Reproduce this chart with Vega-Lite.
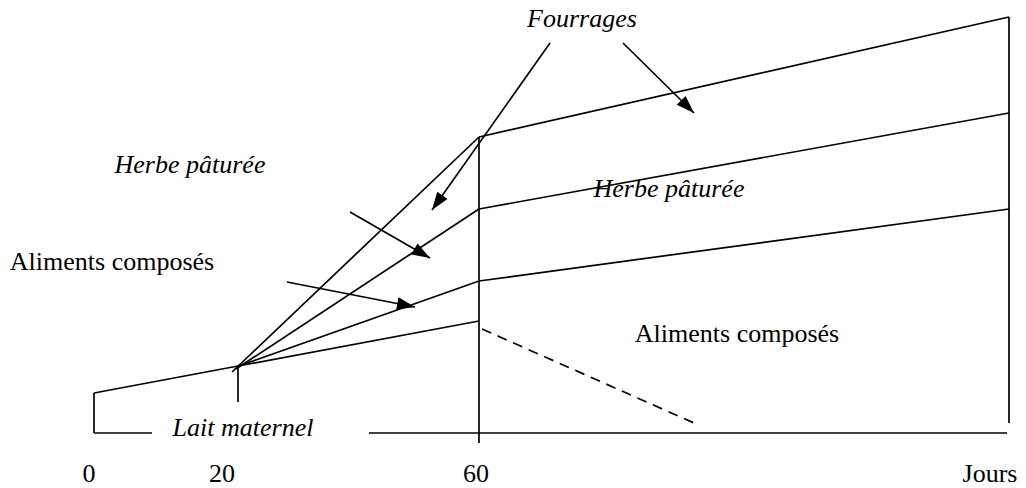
{
  "$schema": "https://vega.github.io/schema/vega-lite/v6.json",
  "width": 1026,
  "height": 488,
  "padding": 0,
  "autosize": {"type": "fit", "contains": "padding"},
  "config": {"view": {"stroke": null}},
  "datasets": {
    "segments": [
      {"x": 94, "y": 55, "x2": 152, "y2": 55},
      {"x": 369, "y": 55, "x2": 1007, "y2": 55},
      {"x": 94, "y": 55, "x2": 94, "y2": 95},
      {"x": 94, "y": 95, "x2": 238, "y2": 122},
      {"x": 238, "y": 122, "x2": 238, "y2": 86},
      {"x": 238, "y": 122, "x2": 479, "y2": 167},
      {"x": 236, "y": 121, "x2": 479, "y2": 207},
      {"x": 236, "y": 119, "x2": 479, "y2": 279},
      {"x": 232, "y": 116, "x2": 479, "y2": 351},
      {"x": 479, "y": 45, "x2": 479, "y2": 351},
      {"x": 479, "y": 351, "x2": 1009, "y2": 471},
      {"x": 479, "y": 279, "x2": 1009, "y2": 375},
      {"x": 479, "y": 207, "x2": 1009, "y2": 279},
      {"x": 1009, "y": 471, "x2": 1009, "y2": 65}
    ],
    "dashed": [
      {"x": 482, "y": 159, "x2": 694, "y2": 65}
    ],
    "arrows": [
      {"x": 550, "y": 445, "x2": 432, "y2": 278},
      {"x": 623, "y": 445, "x2": 694, "y2": 375},
      {"x": 350, "y": 276, "x2": 430, "y2": 230},
      {"x": 287, "y": 206, "x2": 415, "y2": 181}
    ],
    "italicLabels": [
      {"label": "Fourrages", "x": 582, "y": 461},
      {"label": "Herbe pâturée", "x": 190, "y": 315},
      {"label": "Herbe pâturée", "x": 669, "y": 291},
      {"label": "Lait maternel", "x": 243, "y": 52}
    ],
    "labels": [
      {"label": "Aliments composés", "x": 112, "y": 218},
      {"label": "Aliments composés", "x": 737, "y": 146},
      {"label": "0", "x": 89, "y": 6},
      {"label": "20", "x": 222, "y": 6},
      {"label": "60", "x": 476, "y": 6},
      {"label": "Jours", "x": 990, "y": 6}
    ]
  },
  "layer": [
    {
      "data": {"name": "segments"},
      "mark": {"type": "rule", "color": "black", "strokeWidth": 1.7},
      "encoding": {
        "x": {"field": "x", "type": "quantitative", "scale": {"domain": [0, 1026], "nice": false, "zero": false}, "axis": null},
        "y": {"field": "y", "type": "quantitative", "scale": {"domain": [0, 488], "nice": false, "zero": false}, "axis": null},
        "x2": {"field": "x2"},
        "y2": {"field": "y2"}
      }
    },
    {
      "data": {"name": "dashed"},
      "mark": {"type": "rule", "color": "black", "strokeWidth": 1.7, "strokeDash": [10, 7]},
      "encoding": {
        "x": {"field": "x", "type": "quantitative"},
        "y": {"field": "y", "type": "quantitative"},
        "x2": {"field": "x2"},
        "y2": {"field": "y2"}
      }
    },
    {
      "data": {"name": "arrows"},
      "mark": {"type": "rule", "color": "black", "strokeWidth": 1.7},
      "encoding": {
        "x": {"field": "x", "type": "quantitative"},
        "y": {"field": "y", "type": "quantitative"},
        "x2": {"field": "x2"},
        "y2": {"field": "y2"}
      }
    },
    {
      "data": {"name": "arrows"},
      "transform": [
        {"calculate": "atan2(datum.x2 - datum.x, datum.y2 - datum.y) * 180 / PI", "as": "angle"}
      ],
      "mark": {"type": "point", "filled": true, "color": "black", "opacity": 1, "shape": "M0,0L-0.7,2L0.7,2Z", "size": 324},
      "encoding": {
        "x": {"field": "x2", "type": "quantitative"},
        "y": {"field": "y2", "type": "quantitative"},
        "angle": {"field": "angle", "type": "quantitative", "scale": null}
      }
    },
    {
      "data": {"name": "italicLabels"},
      "mark": {"type": "text", "font": "Liberation Serif", "fontSize": 26, "fontStyle": "italic", "align": "center", "baseline": "alphabetic", "color": "black"},
      "encoding": {
        "x": {"field": "x", "type": "quantitative"},
        "y": {"field": "y", "type": "quantitative"},
        "text": {"field": "label"}
      }
    },
    {
      "data": {"name": "labels"},
      "mark": {"type": "text", "font": "Liberation Serif", "fontSize": 26, "align": "center", "baseline": "alphabetic", "color": "black"},
      "encoding": {
        "x": {"field": "x", "type": "quantitative"},
        "y": {"field": "y", "type": "quantitative"},
        "text": {"field": "label"}
      }
    }
  ]
}
